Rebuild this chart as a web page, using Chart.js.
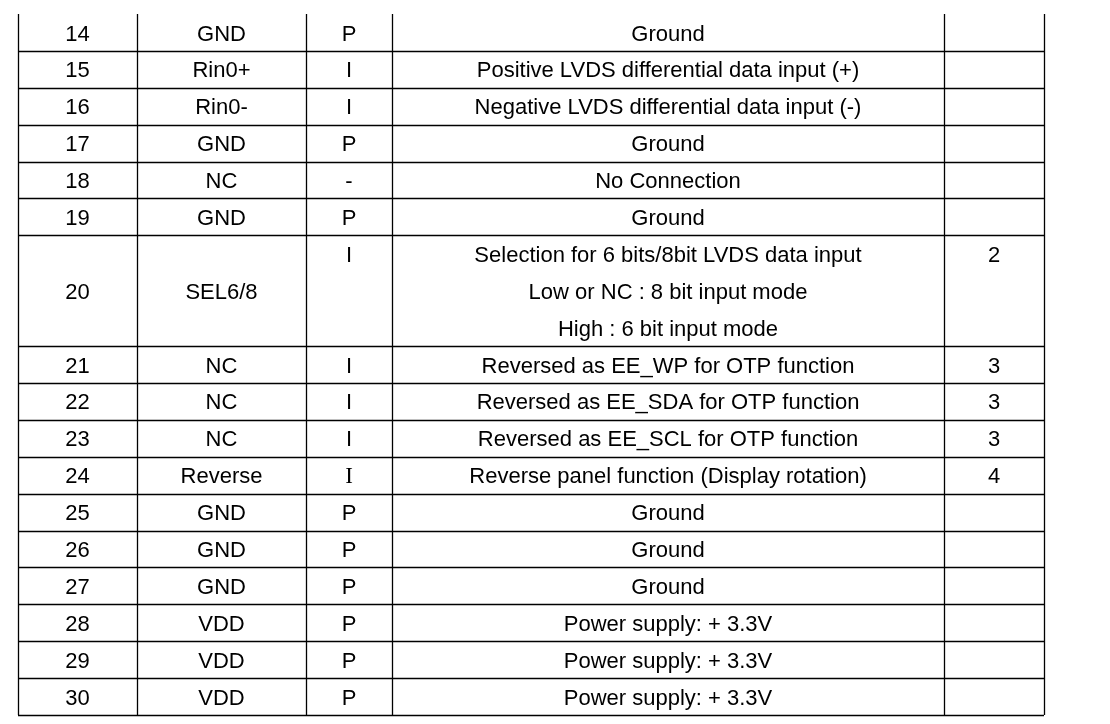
<!DOCTYPE html>
<html lang="en">
<head>
<meta charset="UTF-8">
<title>Pin table</title>
<script src="https://cdn.jsdelivr.net/npm/chart.js"></script>
<style>
  body { margin: 0; background: #fff; }
  .wrap { width: 1110px; height: 724px; }
</style>
</head>
<body>
<div class="wrap"><canvas id="tbl"></canvas></div>
<script>
// table content
const pins = ['14','15','16','17','18','19','20','21','22','23','24','25','26','27','28','29','30'];
const names = ['GND','Rin0+','Rin0-','GND','NC','GND','SEL6/8','NC','NC','NC','Reverse','GND','GND','GND','VDD','VDD','VDD'];
const types = ['P','I','I','P','-','P','I','I','I','I','I','P','P','P','P','P','P'];
const descriptions = [
  ['Ground'],
  ['Positive LVDS differential data input (+)'],
  ['Negative LVDS differential data input (-)'],
  ['Ground'],
  ['No Connection'],
  ['Ground'],
  ['Selection for 6 bits/8bit LVDS data input', 'Low or NC : 8 bit input mode', 'High : 6 bit input mode'],
  ['Reversed as EE_WP for OTP function'],
  ['Reversed as EE_SDA for OTP function'],
  ['Reversed as EE_SCL for OTP function'],
  ['Reverse panel function (Display rotation)'],
  ['Ground'],
  ['Ground'],
  ['Ground'],
  ['Power supply: + 3.3V'],
  ['Power supply: + 3.3V'],
  ['Power supply: + 3.3V']
];
const notes = ['','','','','','','2','3','3','3','4','','','','','',''];
const serifTypeRows = ['24'];
// column edges in x-scale units
const colEdges = [0, 119, 288, 374, 926, 1026];

const totalLines = descriptions.reduce((s, d) => s + d.length, 0);
const SANS = '22px "Liberation Sans", Arial, sans-serif';

const tablePlugin = {
  id: 'tablePlugin',
  afterDraw(chart) {
    const ctx = chart.ctx;
    const xs = chart.scales.x, ys = chart.scales.y;
    const top = ys.getPixelForValue(0), bottom = ys.getPixelForValue(totalLines);
    ctx.save();
    ctx.strokeStyle = '#000';
    ctx.lineWidth = 1.3;
    // vertical lines
    colEdges.forEach(e => {
      const x = Math.round(xs.getPixelForValue(e)) + 0.5;
      ctx.beginPath(); ctx.moveTo(x, top); ctx.lineTo(x, bottom); ctx.stroke();
    });
    ctx.fillStyle = '#000';
    ctx.textAlign = 'center';
    ctx.textBaseline = 'middle';
    const cx = i => xs.getPixelForValue((colEdges[i] + colEdges[i + 1]) / 2);
    const cy = v => ys.getPixelForValue(v) + 2;
    let line = 0;
    pins.forEach((p, r) => {
      const n = descriptions[r].length;
      const rowMid = cy(line + n / 2);
      const firstMid = cy(line + 0.5);
      ctx.font = SANS;
      ctx.fillText(p, cx(0), rowMid);
      ctx.fillText(names[r], cx(1), rowMid);
      descriptions[r].forEach((t, k) => ctx.fillText(t, cx(3), cy(line + k + 0.5)));
      ctx.fillText(notes[r], cx(4), firstMid);
      ctx.font = serifTypeRows.includes(p) ? '23px "Liberation Serif", serif' : SANS;
      ctx.fillText(types[r], cx(2), n > 1 ? firstMid : rowMid);
      line += n;
      const y = Math.round(ys.getPixelForValue(line)) + 0.5;
      ctx.beginPath();
      ctx.moveTo(xs.getPixelForValue(colEdges[0]), y);
      ctx.lineTo(xs.getPixelForValue(colEdges[colEdges.length - 1]), y);
      ctx.stroke();
    });
    ctx.restore();
  }
};

new Chart(document.getElementById('tbl'), {
  type: 'scatter',
  data: { datasets: [{ data: [] }] },
  options: {
    responsive: true,
    maintainAspectRatio: false,
    animation: false,
    layout: { padding: { left: 18, right: 66, top: 14, bottom: 9 } },
    plugins: { legend: { display: false }, tooltip: { enabled: false } },
    scales: {
      x: { type: 'linear', display: false, min: 0, max: colEdges[colEdges.length - 1] },
      y: { type: 'linear', display: false, min: 0, max: totalLines, reverse: true }
    }
  },
  plugins: [tablePlugin]
});
</script>
</body>
</html>
